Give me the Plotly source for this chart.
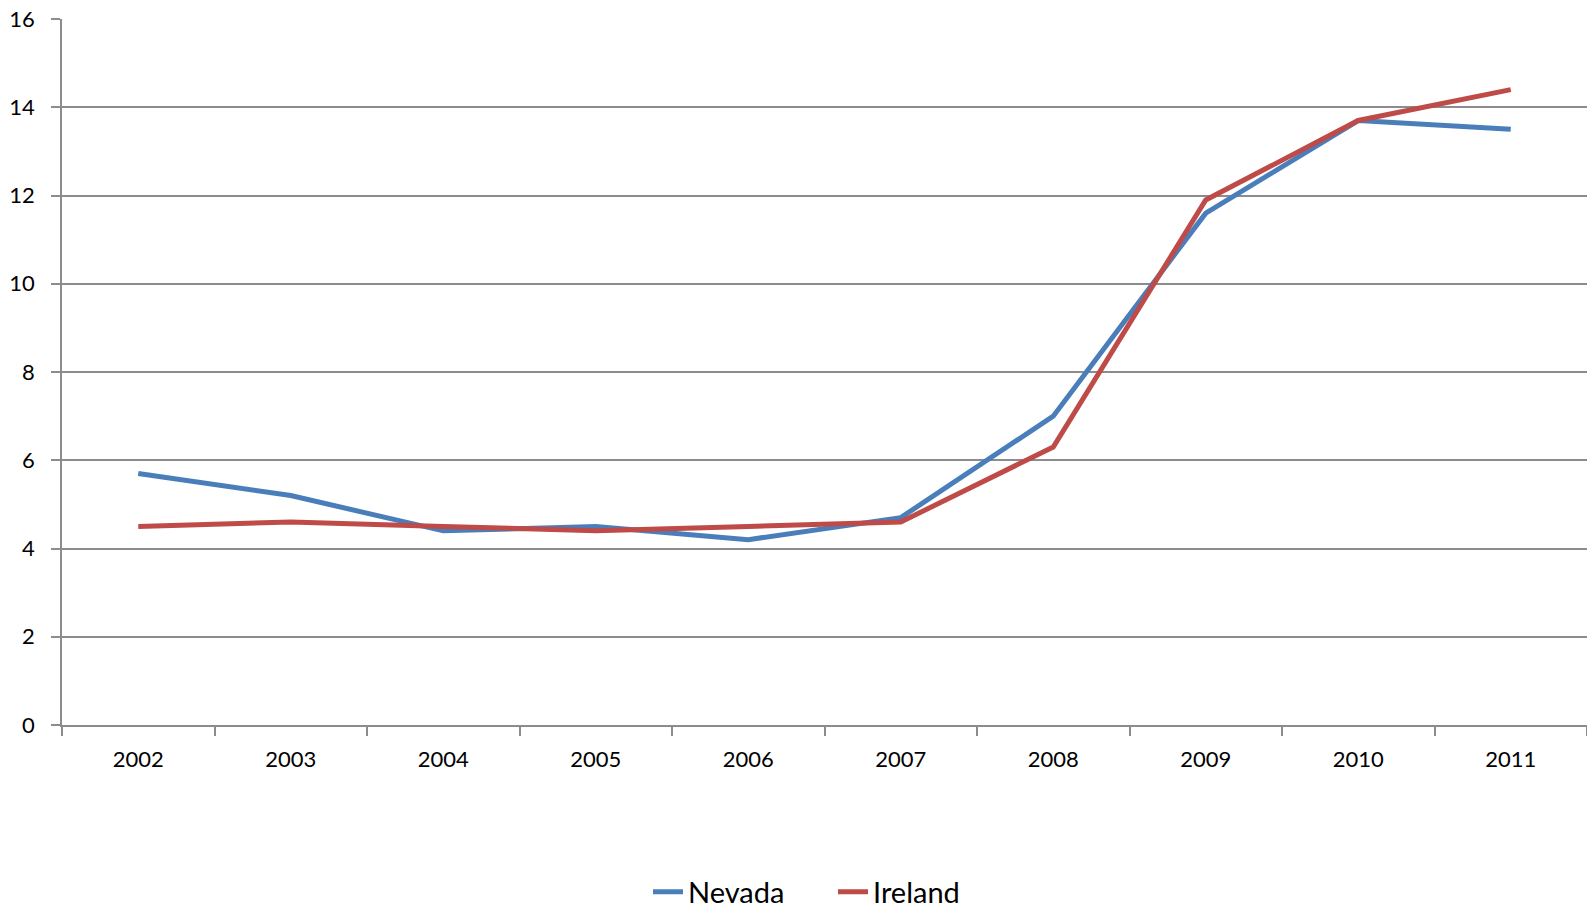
import plotly.graph_objects as go

years = ["2002", "2003", "2004", "2005", "2006", "2007", "2008", "2009", "2010", "2011"]
nevada = [5.7, 5.2, 4.4, 4.5, 4.2, 4.7, 7.0, 11.6, 13.7, 13.5]
ireland = [4.5, 4.6, 4.5, 4.4, 4.5, 4.6, 6.3, 11.9, 13.7, 14.4]
y_ticks = [0, 2, 4, 6, 8, 10, 12, 14, 16]

FONT = "Lato, 'Open Sans', sans-serif"
GRID = "#8c8c8c"

fig = go.Figure()
fig.add_trace(go.Scatter(x=years, y=nevada, name="Nevada", mode="lines",
                         line=dict(color="#4A7EBB", width=5)))
fig.add_trace(go.Scatter(x=years, y=ireland, name="Ireland", mode="lines",
                         line=dict(color="#BE4B48", width=5)))

fig.update_layout(
    width=1587, height=910,
    margin=dict(l=62, r=0, t=19, b=185, autoexpand=False),
    paper_bgcolor="white", plot_bgcolor="white",
    font=dict(family=FONT, color="#000000"),
    showlegend=True,
    legend=dict(orientation="h", x=648 / 1587, xanchor="left", xref="container",
                y=(910 - 892) / 910, yanchor="middle", yref="container",
                font=dict(size=29, family=FONT),
                entrywidth=140, entrywidthmode="pixels", tracegroupgap=0),
)
fig.update_xaxes(
    type="category", range=[-0.5, 9.5],
    showline=True, linecolor=GRID, linewidth=1.5,
    showgrid=False, ticks="outside", tickson="boundaries",
    ticklen=9, tickcolor=GRID, tickwidth=1.5,
    tickfont=dict(size=22, family=FONT), ticklabelstandoff=14,
)
fig.update_yaxes(
    range=[0, 16], tickvals=y_ticks,
    showline=True, linecolor=GRID, linewidth=1.5,
    showgrid=True, gridcolor=GRID, gridwidth=1.5,
    zeroline=False,
    ticks="outside", ticklen=9, tickcolor=GRID, tickwidth=1.5,
    tickfont=dict(size=22, family=FONT), ticklabelstandoff=12,
)

fig.write_html("out.html")
